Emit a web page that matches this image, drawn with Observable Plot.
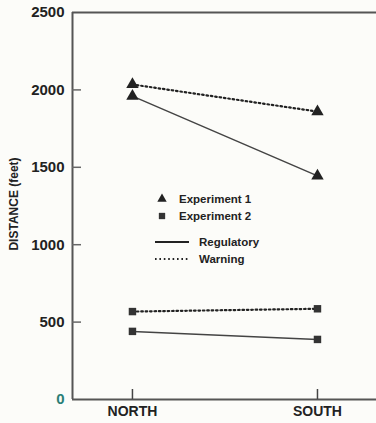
<!DOCTYPE html>
<html>
<head>
<meta charset="utf-8">
<script src="https://cdn.jsdelivr.net/npm/d3@7"></script>
<script src="https://cdn.jsdelivr.net/npm/@observablehq/plot@0.6"></script>
<style>
  html, body { margin: 0; padding: 0; background: #fcfcf9; }
  #chart { position: relative; width: 376px; height: 423px; overflow: hidden; }
  svg { font-family: "Liberation Sans", Arial, sans-serif; }
</style>
</head>
<body>
<div id="chart"></div>
<script>
const regions = ["NORTH", "SOUTH"];
const exp1Regulatory = [1960, 1445];
const exp1Warning = [2035, 1860];
const exp2Regulatory = [440, 388];
const exp2Warning = [568, 586];
const yTicks = [0, 500, 1000, 1500, 2000, 2500];
const legendExperiments = ["Experiment 1", "Experiment 2"];
const legendTypes = ["Regulatory", "Warning"];

const rows = [];
const series = [
  {exp: "Experiment 1", type: "Regulatory", values: exp1Regulatory},
  {exp: "Experiment 1", type: "Warning", values: exp1Warning},
  {exp: "Experiment 2", type: "Regulatory", values: exp2Regulatory},
  {exp: "Experiment 2", type: "Warning", values: exp2Warning}
];
for (const s of series) s.values.forEach((v, i) => rows.push({i, region: regions[i], value: v, exp: s.exp, type: s.type, key: s.exp + s.type}));

const ink = "#222";
const xMin = -0.324, xMax = 1.319;
const pxX = (376 - 72) / (xMax - xMin);   // pixels per x unit
const pxY = (423 - 12 - 24) / 2500;       // pixels per y unit

const plot = Plot.plot({
  width: 376,
  height: 423,
  marginLeft: 72,
  marginRight: 0,
  marginTop: 12,
  marginBottom: 24,
  style: {background: "transparent", fontFamily: "Liberation Sans, Arial, sans-serif", color: ink},
  x: {type: "linear", domain: [xMin, xMax], axis: null, label: null},
  y: {domain: [0, 2500], axis: null, label: null},
  marks: [
    Plot.ruleY([0, 2500], {stroke: "#555", strokeWidth: 2}),
    Plot.ruleX([xMin], {stroke: "#555", strokeWidth: 2}),
    Plot.axisY({ticks: yTicks, tickSize: 0, tickPadding: 8, label: null, fontSize: 15, fontWeight: "bold", fill: (d) => d === 0 ? "#2b7f76" : ink, tickFormat: d => String(d), style: {letterSpacing: "0.5px"}}),
    Plot.ruleY(yTicks.filter(d => d > 0 && d < 2500), {y: d => d, x1: xMin, x2: xMin + 9 / pxX, stroke: "#666", strokeWidth: 1.5}),
    Plot.axisX({ticks: [0, 1], tickSize: 0, tickPadding: 7, label: null, fontSize: 14, fontWeight: "bold", tickFormat: i => regions[i]}),
    Plot.ruleX([0, 1], {x: d => d, y1: 0, y2: 10 / pxY, stroke: "#444", strokeWidth: 1.5}),
    Plot.line(rows.filter(d => d.type === "Regulatory"), {x: "i", y: "value", z: "key", stroke: "#444", strokeWidth: 1.5}),
    Plot.line(rows.filter(d => d.type === "Warning"), {x: "i", y: "value", z: "key", stroke: "#222", strokeWidth: 2.2, strokeDasharray: "1.6,2.8"}),
    Plot.dot(rows.filter(d => d.exp === "Experiment 1"), {x: "i", y: "value", symbol: "triangle", r: 4.6, fill: ink, stroke: "none"}),
    Plot.dot(rows.filter(d => d.exp === "Experiment 2"), {x: "i", y: "value", symbol: "square", r: 4.2, fill: "#333", stroke: "none"}),
    Plot.text(["DISTANCE (feet)"], {frameAnchor: "left", textAnchor: "middle", dx: -58, dy: -2, rotate: -90, fontSize: 12, fontWeight: "bold", fill: ink, style: {letterSpacing: "0.8px"}})
  ]
});
document.getElementById("chart").appendChild(plot);

// legend inside the plot area
const svg = d3.select(plot);
const lg = svg.append("g").attr("font-family", "Liberation Sans, Arial, sans-serif").attr("font-weight", "bold").attr("font-size", 11.5).attr("fill", ink).attr("text-anchor", "start");
const sym = [d3.symbolTriangle, d3.symbolSquare];
legendExperiments.forEach((name, k) => {
  const y = 199 + k * 17;
  lg.append("path").attr("d", d3.symbol(sym[k], k === 0 ? 38 : 40)()).attr("transform", `translate(162,${y})`).attr("fill", k === 0 ? ink : "#333");
  lg.append("text").attr("x", 179).attr("y", y).attr("dy", "0.35em").text(name);
});
legendTypes.forEach((name, k) => {
  const y = 242 + k * 17;
  lg.append("line").attr("x1", 155).attr("x2", 189).attr("y1", y).attr("y2", y)
    .attr("stroke", "#222").attr("stroke-width", k === 0 ? 1.8 : 2)
    .attr("stroke-dasharray", k === 0 ? null : "1.6,2.8");
  lg.append("text").attr("x", 199).attr("y", y).attr("dy", "0.35em").text(name);
});
</script>
</body>
</html>
